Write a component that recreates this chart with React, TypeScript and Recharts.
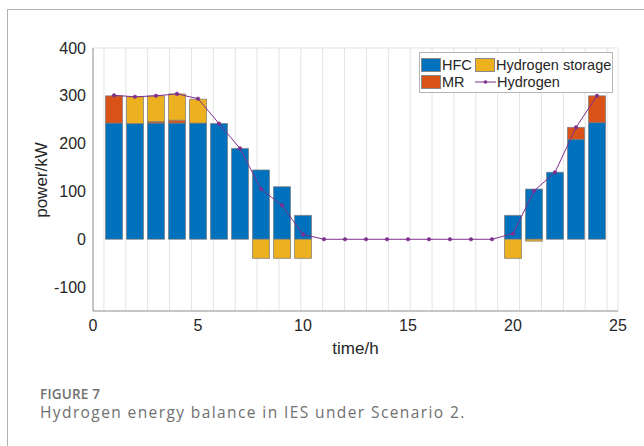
import React from 'react';
import {
  ComposedChart,
  Bar,
  Line,
  XAxis,
  YAxis,
  CartesianGrid,
  Rectangle,
} from 'recharts';

const hours = [1, 2, 3, 4, 5, 6, 7, 8, 9, 10, 11, 12, 13, 14, 15, 16, 17, 18, 19, 20, 21, 22, 23, 24];
const hfc = [243, 242, 243, 243, 243, 242, 190, 145, 110, 50, 0, 0, 0, 0, 0, 0, 0, 0, 0, 50, 105, 140, 209, 244];
const mr = [57, 0, 3, 6, 0, 0, 0, 0, 0, 0, 0, 0, 0, 0, 0, 0, 0, 0, 0, 0, 0, 0, 25, 56];
const storage = [0, 56, 54, 55, 50, 0, 0, -40, -40, -40, 0, 0, 0, 0, 0, 0, 0, 0, 0, -40, -4, 0, 0, 0];
const hydrogen = [301, 298, 300, 304, 294, 242, 190, 105, 71, 10, 0, 0, 0, 0, 0, 0, 0, 0, 0, 12, 101, 140, 234, 300];

const xTicks = [0, 5, 10, 15, 20, 25];
const yTicks = [-100, 0, 100, 200, 300, 400];

const chartData = hours.map((h, i) => ({
  hour: h,
  HFC: hfc[i],
  MR: mr[i],
  'Hydrogen storage': storage[i],
  Hydrogen: hydrogen[i],
}));

const COLORS = {
  hfc: '#0072BD',
  mr: '#D95319',
  storage: '#EDB120',
  line: '#7E2F8E',
};

const FONT = 'Liberation Sans, Arial, sans-serif';
const tickFont = { fontFamily: FONT, fontSize: 16, fill: '#262626' };

// skip zero-height segments so their edges don't show
const BarShape = (props: any) => {
  if (!props.height || Math.abs(props.height) < 0.5) return null;
  return <Rectangle {...props} />;
};

const Swatch = ({ color }: { color: string }) => (
  <span
    style={{
      display: 'inline-block',
      width: 20,
      height: 14,
      background: color,
      border: '1px solid #8a8a8a',
      boxSizing: 'border-box',
      marginRight: 1,
      verticalAlign: 'middle',
    }}
  />
);

const LegendBox = () => (
  <div
    style={{
      position: 'absolute',
      left: 419,
      top: 52,
      width: 194,
      height: 41,
      background: '#fff',
      border: '1px solid #b5b5b5',
      boxSizing: 'border-box',
      fontFamily: FONT,
      fontSize: 14.5,
      color: '#262626',
      lineHeight: '16px',
      padding: '3px 0 0 1px',
    }}
  >
    <div style={{ display: 'flex', alignItems: 'center', height: 17 }}>
      <Swatch color={COLORS.hfc} />
      <span style={{ width: 33 }}>HFC</span>
      <Swatch color={COLORS.storage} />
      <span>Hydrogen storage</span>
    </div>
    <div style={{ display: 'flex', alignItems: 'center', height: 17 }}>
      <Swatch color={COLORS.mr} />
      <span style={{ width: 33 }}>MR</span>
      <svg width={21} height={14} style={{ marginRight: 1 }}>
        <line x1={0} y1={7} x2={21} y2={7} stroke={COLORS.line} strokeWidth={1} />
        <circle cx={10.5} cy={7} r={1.8} fill={COLORS.line} />
      </svg>
      <span>Hydrogen</span>
    </div>
  </div>
);

export default function App() {
  return (
    <div style={{ position: 'absolute', left: 0, top: 0, width: 644, height: 446, background: '#fff', overflow: 'hidden' }}>
      <div
        style={{
          position: 'absolute',
          left: 7,
          top: 9,
          width: 660,
          height: 460,
          borderTop: '1px solid #b0b0b0',
          borderLeft: '1px solid #b0b0b0',
        }}
      />
      <div style={{ position: 'absolute', left: 0, top: 0 }}>
        <ComposedChart
          width={644}
          height={370}
          data={chartData}
          stackOffset="sign"
          margin={{ top: 48, right: 26, bottom: 29, left: 43 }}
        >
          <CartesianGrid stroke="#e3e3e3" strokeWidth={1} />
          <XAxis
            xAxisId="main"
            dataKey="hour"
            type="number"
            domain={[0, 25]}
            ticks={xTicks}
            allowDataOverflow
            stroke="#9a9a9a"
            tickSize={0}
            tickMargin={9}
            height={30}
            tick={tickFont}
            label={{
              value: 'time/h',
              position: 'insideBottom',
              offset: -13,
              style: { ...tickFont, fontSize: 17 },
            }}
          />
          <XAxis xAxisId="top" orientation="top" dataKey="hour" type="number" domain={[0, 25]} tick={false} tickLine={false} stroke="#9a9a9a" height={0} />
          <YAxis
            yAxisId="main"
            domain={[-150, 400]}
            ticks={yTicks}
            allowDataOverflow
            stroke="#9a9a9a"
            tickSize={0}
            tickMargin={7}
            width={50}
            tick={tickFont}
          />
          <YAxis yAxisId="right" orientation="right" domain={[-150, 400]} tick={false} tickLine={false} stroke="#9a9a9a" width={0} />
          <Bar xAxisId="main" yAxisId="main" dataKey="HFC" stackId="a" fill={COLORS.hfc} stroke="#7a7a7a" strokeWidth={0.7} barSize={17} shape={BarShape} isAnimationActive={false} />
          <Bar xAxisId="main" yAxisId="main" dataKey="MR" stackId="a" fill={COLORS.mr} stroke="#7a7a7a" strokeWidth={0.7} barSize={17} shape={BarShape} isAnimationActive={false} />
          <Bar xAxisId="main" yAxisId="main" dataKey="Hydrogen storage" stackId="a" fill={COLORS.storage} stroke="#7a7a7a" strokeWidth={0.7} barSize={17} shape={BarShape} isAnimationActive={false} />
          <Line
            xAxisId="main"
            yAxisId="main"
            type="linear"
            dataKey="Hydrogen"
            stroke={COLORS.line}
            strokeWidth={1}
            dot={{ r: 1.8, fill: COLORS.line, stroke: COLORS.line, strokeWidth: 0.5 }}
            activeDot={false}
            isAnimationActive={false}
          />
        </ComposedChart>
      </div>
      <div
        style={{
          position: 'absolute',
          left: 42,
          top: 180,
          transform: 'translate(-50%, -50%) rotate(-90deg)',
          fontFamily: FONT,
          fontSize: 17,
          color: '#262626',
          whiteSpace: 'nowrap',
          lineHeight: '18px',
        }}
      >
        power/kW
      </div>
      <LegendBox />
      <div
        style={{
          position: 'absolute',
          left: 40,
          top: 387,
          fontFamily: 'Open Sans, Noto Sans, sans-serif',
          fontSize: 13.5,
          fontWeight: 600,
          color: '#707070',
          letterSpacing: 0.2,
          lineHeight: '14px',
          whiteSpace: 'nowrap',
        }}
      >
        FIGURE 7
      </div>
      <div
        style={{
          position: 'absolute',
          left: 40,
          top: 404,
          fontFamily: 'Open Sans, Noto Sans, sans-serif',
          fontSize: 15.5,
          color: '#707070',
          letterSpacing: 1.4,
          lineHeight: '16px',
          whiteSpace: 'nowrap',
        }}
      >
        Hydrogen energy balance in IES under Scenario 2.
      </div>
    </div>
  );
}
